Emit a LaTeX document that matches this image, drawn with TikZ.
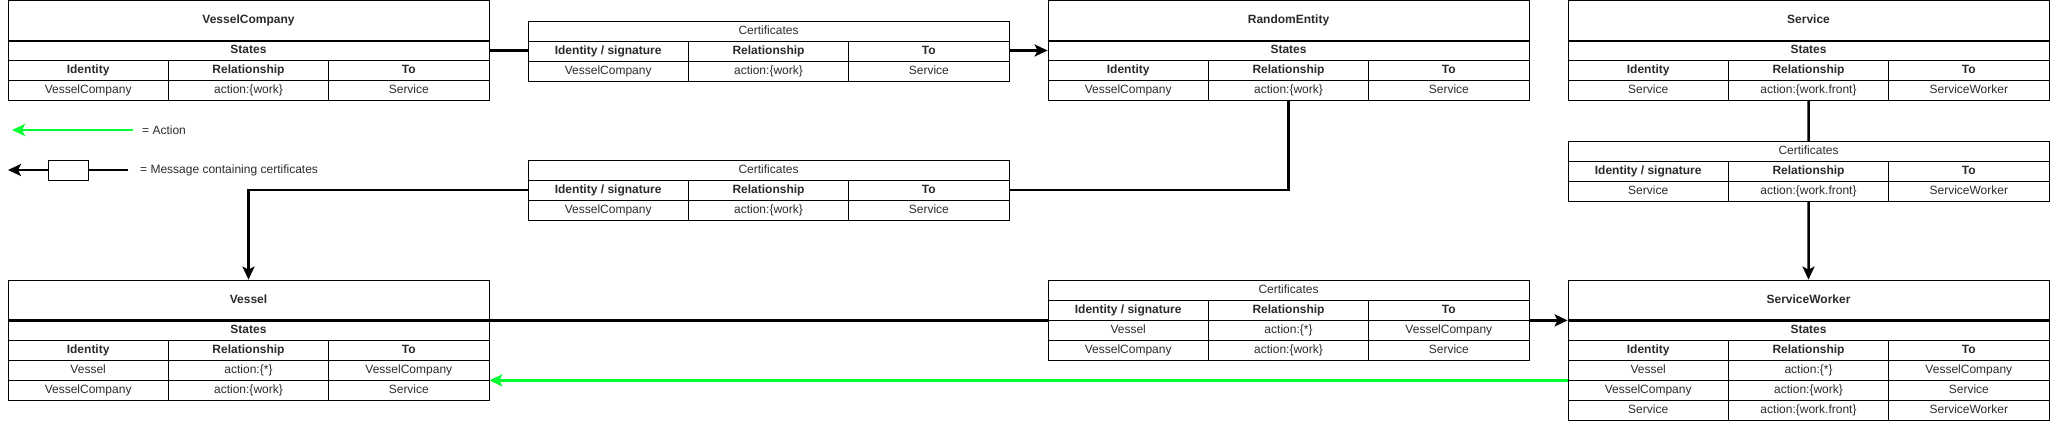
\documentclass[tikz,border=0pt]{standalone}
\usepackage{fontspec}
\setmainfont{Liberation Sans}
\usetikzlibrary{arrows.meta,positioning,calc,backgrounds}
\definecolor{vert}{HTML}{00FF33}
\definecolor{texte}{HTML}{2B2B2B}

\begin{document}
\begin{tikzpicture}[x=1pt,y=-1pt]
\tikzstyle{cellule}=[draw,fill=white,minimum width=160.33pt,minimum height=20pt,inner sep=0pt,text height=8.6pt,text depth=2.6pt,text=texte,font=\fontsize{12}{14}\selectfont,line width=0.8pt]
\tikzstyle{entete}=[cellule,font=\fontsize{12}{14}\selectfont\bfseries]
\tikzstyle{titre}=[cellule,minimum width=481pt,minimum height=40pt,font=\fontsize{12}{14}\selectfont\bfseries]
\tikzstyle{bandeau}=[entete,minimum width=481pt]
\tikzstyle{bandeaufin}=[cellule,minimum width=481pt]
\tikzstyle{fleche}=[-{Stealth[length=13pt,width=12pt,inset=3pt]},line width=2.5pt]
\tikzstyle{action}=[fleche,draw=vert,fill=vert]
\tikzstyle{epais}=[line width=2.5pt]
\tikzstyle{legende}=[anchor=west,text=texte,font=\fontsize{12}{14}\selectfont,inner sep=0pt]
\def\Colonne{160.33}
\def\Ligne#1#2#3#4#5#6#7{%
\node[#4] (#1a) at ({#2+0.5*\Colonne},{#3+10}) {#5};
\node[#4] (#1b) at ({#2+1.5*\Colonne},{#3+10}) {#6};
\node[#4] (#1c) at ({#2+2.5*\Colonne},{#3+10}) {#7};}
\def\Entite#1#2#3#4{%
\node[titre] (#1) at ({#2+240.5},{#3+20}) {#4};
\node[bandeau] (#1s) at ({#2+240.5},{#3+50}) {States};
\Ligne{#1h}{#2}{#3+60}{entete}{Identity}{Relationship}{To}
\draw[epais] (#1.south west) -- (#1.south east);}
\def\Certificats#1#2#3{%
\node[bandeaufin] (#1) at ({#2+240.5},{#3+10}) {Certificates};
\Ligne{#1h}{#2}{#3+20}{entete}{Identity / signature}{Relationship}{To}}
\useasboundingbox (0,0) rectangle (2052,423);
% entites
\Entite{VC}{8}{0.5}{VesselCompany}
\Ligne{VC1}{8}{80.5}{cellule}{VesselCompany}{action:\{work\}}{Service}
\Entite{RE}{1048}{0.5}{RandomEntity}
\Ligne{RE1}{1048}{80.5}{cellule}{VesselCompany}{action:\{work\}}{Service}
\Entite{SE}{1568}{0.5}{Service}
\Ligne{SE1}{1568}{80.5}{cellule}{Service}{action:\{work.front\}}{ServiceWorker}
\Entite{V}{8}{280}{Vessel}
\Ligne{V1}{8}{360}{cellule}{Vessel}{action:\{*\}}{VesselCompany}
\Ligne{V2}{8}{380}{cellule}{VesselCompany}{action:\{work\}}{Service}
\Entite{SW}{1568}{280}{ServiceWorker}
\Ligne{SW1}{1568}{360}{cellule}{Vessel}{action:\{*\}}{VesselCompany}
\Ligne{SW2}{1568}{380}{cellule}{VesselCompany}{action:\{work\}}{Service}
\Ligne{SW3}{1568}{400}{cellule}{Service}{action:\{work.front\}}{ServiceWorker}
% certificats
\Certificats{CA}{528}{21}
\Ligne{CA1}{528}{61}{cellule}{VesselCompany}{action:\{work\}}{Service}
\Certificats{CB}{528}{160}
\Ligne{CB1}{528}{200}{cellule}{VesselCompany}{action:\{work\}}{Service}
\Certificats{CC}{1568}{141}
\Ligne{CC1}{1568}{181}{cellule}{Service}{action:\{work.front\}}{ServiceWorker}
\Certificats{CD}{1048}{280}
\Ligne{CD1}{1048}{320}{cellule}{Vessel}{action:\{*\}}{VesselCompany}
\Ligne{CD2}{1048}{340}{cellule}{VesselCompany}{action:\{work\}}{Service}
% legende
\coordinate (LA1) at (133,130);
\coordinate (LA2) at (12,130);
\node[legende] (LAt) at (142,130) {= Action};
\coordinate (LM1) at (128,170);
\coordinate (LM2) at (8,170);
\node[draw,fill=white,minimum width=40pt,minimum height=20pt,inner sep=0pt,line width=0.8pt] (LMb) at (68,170) {};
\node[legende] (LMt) at (140,170) {= Message containing certificates};
\begin{scope}[on background layer]
\draw[fleche] (VCs.east) -- (REs.west);
\draw[fleche] (RE1b.south) |- (CBhb.center) -| (V.north);
\draw[fleche] (SE1b.south) -- (SW.north);
\draw[fleche] (V.south east) -- (SW.south west);
\draw[action] (SW1a.south west) -- (V1c.south east);
\draw[action] (LA1) -- (LA2);
\draw[fleche] (LM1) -- (LM2);
\end{scope}
\end{tikzpicture}
\end{document}
